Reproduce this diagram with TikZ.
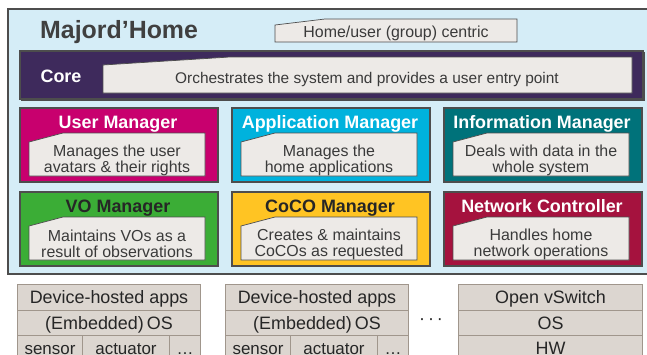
\documentclass[tikz,border=0pt]{standalone}
\usepackage{fontspec}
\setmainfont{Liberation Sans}

\definecolor{outerfill}{HTML}{D5EDF7}
\definecolor{framegray}{HTML}{4D4D4D}
\definecolor{panelfill}{HTML}{EDEAE7}
\definecolor{textgray}{HTML}{3A3A3A}
\definecolor{titlegray}{HTML}{404040}
\definecolor{corecol}{HTML}{3E2A5C}
\definecolor{usercol}{HTML}{C8006E}
\definecolor{appcol}{HTML}{00B2DD}
\definecolor{infocol}{HTML}{00727A}
\definecolor{vocol}{HTML}{3BAD36}
\definecolor{cococol}{HTML}{FFC423}
\definecolor{netcol}{HTML}{A5123E}
\definecolor{cellfill}{HTML}{DCD6D0}
\definecolor{celldraw}{HTML}{A0968C}

\tikzset{
  mgr/.style={draw=framegray, line width=1.5bp, minimum width=198bp,
    minimum height=74bp, inner sep=0pt, anchor=north west},
  panel/.style={fill=panelfill, draw=framegray, line width=0.7bp},
  mgrtitle/.style={anchor=base, inner sep=0pt,
    font=\fontsize{18}{18}\selectfont\bfseries},
  mgrbody/.style={align=center, inner sep=0pt, text=textgray,
    font=\fontsize{16}{16}\selectfont},
  cell/.style={draw=celldraw, fill=cellfill, line width=1bp, inner sep=0pt,
    anchor=north west, minimum height=25.5bp, text height=13bp, text depth=0pt,
    text=black!85, font=\fontsize{18}{18}\selectfont},
  smallcell/.style={cell, font=\fontsize{17}{17}\selectfont},
}

% one coloured manager block: name, x, y, fill, title colour, title, description
\newcommand\mgrbox[7]{%
  \begin{scope}[shift={(#2,#3)}]
    \node[mgr, fill=#4] (#1) at (0,0) {};
    \draw[panel] (10,35) -- (44,26) -- (186,26) -- (186,69) -- (10,69) -- cycle;
    \node[mgrtitle, text=#5] (#1-title) at (99,21) {#6};
    \node[mgrbody] (#1-body) at (98,53) {#7};
  \end{scope}}

% one device stack with apps, OS and hardware parts
\newcommand\devstack[2]{%
  \begin{scope}[shift={(#2,284)}]
    \node[cell, minimum width=183bp] (#1-apps) at (0,0) {Device-hosted apps};
    \node[cell, minimum width=183bp] (#1-os) at (0,25.5) {(Embedded)\,OS};
    \node[smallcell, minimum width=65bp] (#1-sensor) at (0,51) {sensor};
    \node[smallcell, minimum width=87bp] (#1-actuator) at (65,51) {actuator};
    \node[smallcell, minimum width=31bp] (#1-more) at (152,51) {\ldots};
  \end{scope}}

\begin{document}
\begin{tikzpicture}[x=1bp, y=-1bp]
\useasboundingbox (0,0) rectangle (647,354);
\clip (0,0) rectangle (647,354);

% platform frame
\node[draw=framegray, fill=outerfill, line width=2bp, minimum width=660bp,
  minimum height=265bp, inner sep=0pt, anchor=north west] (platform) at (7,8) {};
\node[anchor=base west, inner sep=0pt, text=titlegray,
  font=\fontsize{25}{25}\selectfont\bfseries] (title) at (40,38) {Majord’Home};

% scope label
\draw[panel] (275,25) -- (325,19) -- (517,19) -- (517,42) -- (275,42) -- cycle;
\node[anchor=base, inner sep=0pt, text=textgray, font=\fontsize{16}{16}\selectfont]
  (scope) at (396,37) {Home/user (group) centric};

% core layer
\fill[black!70] (21,52) rectangle (645,101);
\node[draw=framegray, fill=corecol, line width=1.5bp, minimum width=623bp,
  minimum height=48bp, inner sep=0pt, anchor=north west] (core) at (19,50) {};
\draw[panel] (103,65) -- (230,57) -- (632,57) -- (632,93) -- (103,93) -- cycle;
\node[anchor=base, inner sep=0pt, text=white,
  font=\fontsize{18}{18}\selectfont\bfseries] (core-title) at (61,82) {Core};
\node[anchor=base, inner sep=0pt, text=textgray, font=\fontsize{15.5}{16}\selectfont]
  (core-body) at (367,83) {Orchestrates the system and provides a user entry point};

% managers
\mgrbox{user}{19}{107}{usercol}{white}{User Manager}{Manages the user\\avatars \& their rights}
\mgrbox{app}{231}{107}{appcol}{white}{Application Manager}{Manages the\\home applications}
\mgrbox{info}{443}{107}{infocol}{white}{Information Manager}{Deals with data in the\\whole system}
\mgrbox{vo}{19}{191}{vocol}{black!85}{VO Manager}{Maintains VOs as a\\result of observations}
\mgrbox{coco}{231}{191}{cococol}{black!85}{CoCO Manager}{Creates \& maintains\\CoCOs as requested}
\mgrbox{net}{443}{191}{netcol}{white}{Network Controller}{Handles home\\network operations}

% devices
\devstack{devA}{17}
\devstack{devB}{225}
\node[font=\fontsize{18}{18}\selectfont, text=black!85] (gap) at (431,322) {·\,·\,·};
\node[cell, minimum width=184bp] (ovs) at (458,284) {Open vSwitch};
\node[cell, minimum width=184bp] (ovs-os) at (458,309.5) {OS};
\node[cell, minimum width=184bp] (ovs-hw) at (458,335) {HW};
\end{tikzpicture}
\end{document}
